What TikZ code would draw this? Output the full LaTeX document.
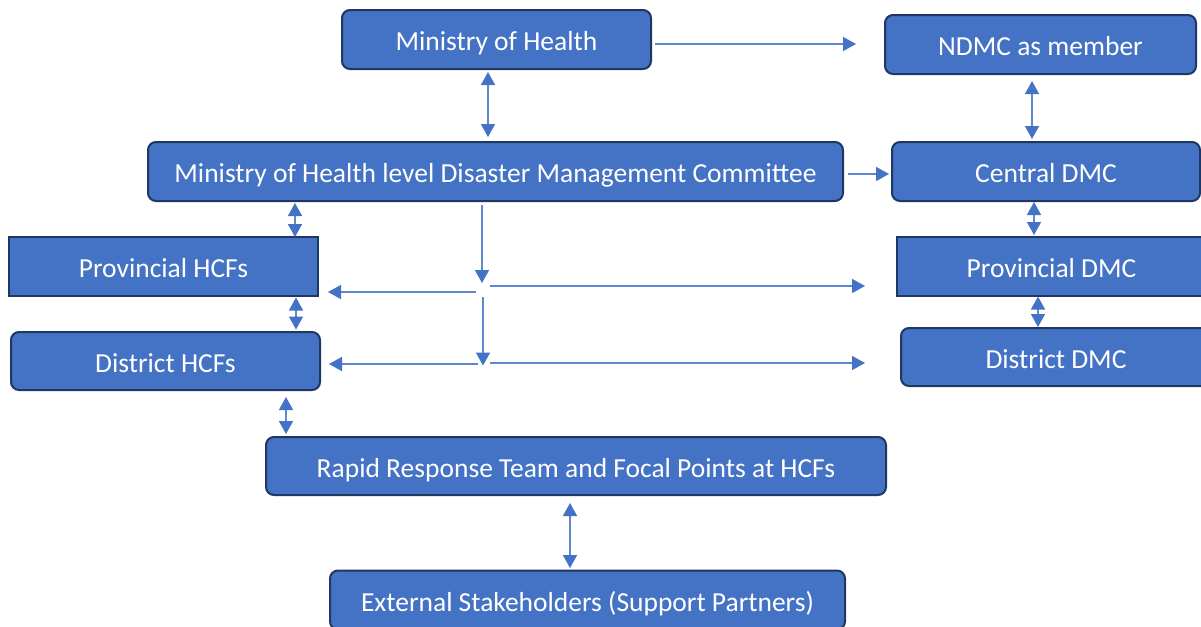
\documentclass[tikz,border=0pt]{standalone}
\usepackage{fontspec}
\setmainfont{Carlito}
\usetikzlibrary{arrows.meta}
\definecolor{boxfill}{HTML}{4472C4}
\definecolor{boxline}{HTML}{1F3763}
\definecolor{linkline}{HTML}{5F88D2}
\definecolor{tipfill}{HTML}{4472C4}
\tikzset{
  box/.style={draw=boxline, fill=boxfill, line width=1pt, rounded corners=4pt,
    text=white, font=\fontsize{13.75}{16}\selectfont, inner sep=0pt,
    text height=11pt, text depth=0pt, minimum height=29.5pt},
  sharpbox/.style={box, rounded corners=0pt},
  link/.style={draw=linkline, line width=0.75pt,
    -{Triangle[length=6.5pt,width=7pt,color=tipfill]}},
  dlink/.style={link,
    {Triangle[length=6.5pt,width=7pt,color=tipfill]}-{Triangle[length=6.5pt,width=7pt,color=tipfill]}}
}
\begin{document}
\begin{tikzpicture}[x=0.5pt,y=-0.5pt]
\useasboundingbox (0,0) rectangle (1201,627);

% boxes
\node[box, minimum width=154.5pt] (moh) at (496.5,39.5) {Ministry of Health};
\node[box, minimum width=155.5pt] (ndmc) at (1040.5,44.5) {NDMC as member};
\node[box, minimum width=347.5pt] (mohdmc) at (495.5,171.5) {Ministry of Health level Disaster Management Committee};
\node[box, minimum width=154pt] (cdmc) at (1046,171.5) {Central DMC};
\node[sharpbox, minimum width=154.5pt] (phcf) at (163.5,266.5) {Provincial HCFs};
\node[sharpbox, minimum width=154.5pt] (pdmc) at (1051.5,266.5) {Provincial DMC};
\node[box, minimum width=154.5pt, minimum height=29pt] (dhcf) at (165.5,361) {District HCFs};
\node[box, minimum width=155pt, minimum height=29pt] (ddmc) at (1056,357) {District DMC};
\node[box, minimum width=310pt, minimum height=29pt] (rrt) at (576,466) {Rapid Response Team and Focal Points at HCFs};
\node[box, minimum width=257.5pt] (ext) at (587.5,600) {External Stakeholders (Support Partners)};

% top level links
\draw[link, shorten <=1.5pt, shorten >=14pt] (moh.east |- 0,44) -- (ndmc.west |- 0,44);
\draw[dlink, shorten <=1pt, shorten >=2pt] ([xshift=-4.25pt]moh.south) -- ([xshift=-4.25pt]moh.south |- mohdmc.north);
\draw[dlink, shorten <=3pt, shorten >=1pt] ([xshift=-4.25pt]ndmc.south) -- ([xshift=-4.25pt]ndmc.south |- cdmc.north);
\draw[link, shorten <=2pt, shorten >=1pt] (mohdmc.east |- 0,174) -- (cdmc.west |- 0,174);

% left column
\draw[dlink, shorten <=1pt, shorten >=0pt] (295,201) -- (295,237);
\draw[dlink, shorten <=0.5pt, shorten >=1pt] (296,296.5) -- (296,331.5);
\draw[dlink, shorten <=3pt, shorten >=1.5pt] (286,391) -- (286,437);

% right column
\draw[dlink, shorten <=0.5pt, shorten >=1pt] (1034,201) -- (1034,237);
\draw[dlink, shorten <=0pt, shorten >=0.5pt] (1038,296.5) -- (1038,328);

% rapid response to external partners
\draw[dlink, shorten <=4pt, shorten >=1pt] (570,495) -- (570,570);

% distribution from the committee
\coordinate (ja) at (482,205);
\coordinate (jl1) at (476,292);
\coordinate (jr1) at (490,286);
\coordinate (jb) at (483,297);
\coordinate (jl2) at (478,364);
\coordinate (jr2) at (490,363);
\draw[link] (ja) -- (482,283);
\draw[link, shorten >=4.5pt] (jl1) -- (jl1 -| phcf.east);
\draw[link, shorten >=15.5pt] (jr1) -- (jr1 -| pdmc.west);
\draw[link] (jb) -- (483,365.5);
\draw[link, shorten >=4pt] (jl2) -- (jl2 -| dhcf.east);
\draw[link, shorten >=17.5pt] (jr2) -- (jr2 -| ddmc.west);
\end{tikzpicture}
\end{document}
